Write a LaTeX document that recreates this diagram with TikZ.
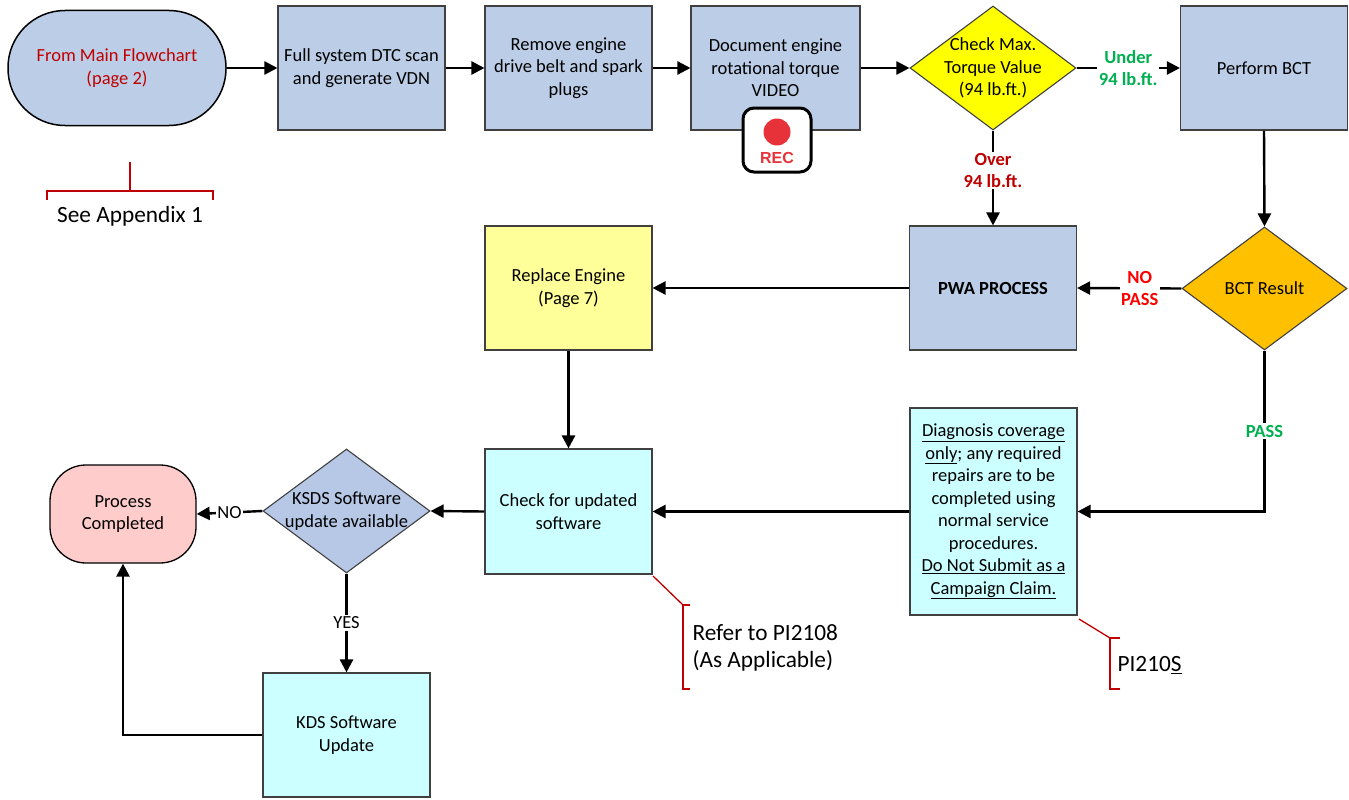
\documentclass[tikz,border=0pt]{standalone}
\usepackage{fontspec}
\setmainfont{Carlito}
\newfontfamily\arialfont{Liberation Sans}
\usetikzlibrary{arrows.meta,shapes.geometric,calc}
\definecolor{boxblue}{RGB}{188,206,231}
\definecolor{diablue}{RGB}{182,200,230}
\definecolor{boxcyan}{RGB}{204,255,255}
\definecolor{lightyellow}{RGB}{255,255,153}
\definecolor{brightyellow}{RGB}{255,255,0}
\definecolor{boxorange}{RGB}{255,192,0}
\definecolor{boxpink}{RGB}{255,204,204}
\definecolor{bordergray}{RGB}{64,64,64}
\definecolor{darkred}{RGB}{192,0,0}
\definecolor{brightred}{RGB}{255,0,0}
\definecolor{okgreen}{RGB}{0,176,80}
\definecolor{recred}{RGB}{232,50,58}
\tikzset{
  txt/.style={font=\fontsize{18.5}{22.5}\selectfont, align=center},
  stepbox/.style={draw=bordergray, line width=1.1pt, minimum width=167pt, minimum height=124pt, inner sep=0pt, txt},
  diabox/.style={diamond, draw=bordergray, line width=1.1pt, minimum width=166pt, minimum height=124pt, inner sep=0pt},
  conn/.style={line width=2.4pt, -{Triangle[length=13pt,width=13pt]}},
  edgelabel/.style={fill=white, inner sep=1.5pt, font=\fontsize{18.5}{22.5}\selectfont\bfseries, align=center},
  annot/.style={draw=darkred, line width=1.3pt},
  annottext/.style={font=\fontsize{23.3}{27.5}\selectfont, align=left}
}
\begin{document}
\begin{tikzpicture}[x=1pt,y=-1pt]
\useasboundingbox (0,0) rectangle (1349,800);

% top row
\node[draw=black, line width=1.5pt, fill=boxblue, rounded corners=57pt, minimum width=218pt, minimum height=115pt, txt, text=darkred] (start) at (117,68) {From Main Flowchart\\(page 2)};
\node[stepbox, fill=boxblue] (scan) at (361.5,68) {Full system DTC scan\\and generate VDN};
\node[stepbox, fill=boxblue] (belt) at (568.5,68) {Remove engine\\drive belt and spark\\plugs};
\node[stepbox, fill=boxblue, minimum width=169pt] (video) at (775.5,68) {Document engine\\rotational torque\\VIDEO};
\node[diabox, fill=brightyellow] (chkmax) at (993,68) {};
\node[txt] (chkmaxtxt) at (chkmax) {Check Max.\\Torque Value\\(94 lb.ft.)};
\node[stepbox, fill=boxblue] (bct) at (1264,68) {Perform BCT};

% REC icon
\node[draw=black, line width=3pt, fill=white, rounded corners=11pt, minimum width=68pt, minimum height=64pt] (rec) at (777,140) {};
\fill[recred] (777,132) circle (13.5pt);
\node[text=recred, font=\arialfont\fontsize{16}{16}\selectfont\bfseries] (rectxt) at (777,158) {REC};

% second row
\node[diabox, fill=boxorange, minimum width=165pt, minimum height=123pt] (bctres) at (1264.5,288.5) {};
\node[txt] (bctrestxt) at (bctres) {BCT Result};
\node[stepbox, fill=boxblue, font=\fontsize{18.5}{22.5}\selectfont\bfseries] (pwa) at (993,288) {PWA PROCESS};
\node[stepbox, fill=lightyellow] (replace) at (568.5,288) {Replace Engine\\(Page 7)};

% third row
\node[stepbox, fill=boxcyan, minimum height=207pt] (diag) at (993.5,511.5) {\underline{Diagnosis coverage}\\\underline{only}; any required\\repairs are to be\\completed using\\normal service\\procedures.\\\underline{Do Not Submit as a}\\\underline{Campaign Claim.}};
\node[stepbox, fill=boxcyan, minimum height=125pt] (check) at (568.5,511.5) {Check for updated\\software};
\node[diabox, fill=diablue, minimum width=167pt, minimum height=124pt] (ksds) at (346.5,511) {};
\node[txt] (ksdstxt) at (ksds) {KSDS Software\\update available};
\node[draw=black, line width=1.3pt, fill=boxpink, rounded corners=36pt, minimum width=146pt, minimum height=98pt, txt] (done) at (123,514) {Process\\Completed};
\node[stepbox, fill=boxcyan] (kds) at (346.5,735) {KDS Software\\Update};

% connectors
\draw[conn] (start.east) -- (scan.west);
\draw[conn] (scan.east) -- (belt.west);
\draw[conn] (belt.east) -- (video.west);
\draw[conn] (video.east) -- (chkmax.west);
\draw[conn] (chkmax.east) -- node[edgelabel, text=okgreen] (underlbl) {Under\\94 lb.ft.} (bct.west);
\draw[conn] (chkmax.south) -- node[edgelabel, text=darkred, pos=0.42] (overlbl) {Over\\94 lb.ft.} (pwa.north);
\draw[conn] (bct.south) -- (bctres.north);
\draw[conn] (bctres.west) -- node[edgelabel, text=brightred, pos=0.4] (nopasslbl) {NO\\PASS} (pwa.east);
\draw[conn] (pwa.west) -- (replace.east);
\draw[conn] (replace.south) -- (check.north);
\draw[conn] (bctres.south) |- node[edgelabel, text=okgreen, pos=0.25] (passlbl) {PASS} (diag.east);
\draw[conn] (diag.west) -- (check.east);
\draw[conn] (check.west) -- (ksds.east);
\draw[conn] (ksds.west) -- node[fill=white, inner sep=1pt, font=\fontsize{18.5}{20}\selectfont] (nolbl) {NO} (done.east);
\draw[conn] (ksds.south) -- node[fill=white, inner sep=2pt, font=\fontsize{18.5}{20}\selectfont] (yeslbl) {YES} (kds.north);
\draw[conn] (kds.west) -| (done.south);

% annotations
\coordinate (appTop) at (130,162);
\coordinate (appMid) at (130,191);
\draw[annot] (appTop) -- (appMid);
\draw[annot] (47,200) -- (47,191) -- (213,191) -- (213,200);
\node[annottext] (apptxt) at (130,216) {See Appendix 1};

\coordinate (refA) at (653,576);
\coordinate (refB) at (683,605);
\draw[annot] (refA) -- (refB);
\draw[annot] (690,605) -- (683,605) -- (683,689) -- (690,689);
\node[annottext, anchor=west] (reftxt) at (689,648) {Refer to PI2108\\(As Applicable)};

\coordinate (piA) at (1079,619);
\coordinate (piB) at (1110,638);
\draw[annot] (piA) -- (piB);
\draw[annot] (1120,638) -- (1110,638) -- (1110,689) -- (1120,689);
\node[annottext, anchor=west] (pitxt) at (1114,665) {PI210\underline{S}};
\end{tikzpicture}
\end{document}
